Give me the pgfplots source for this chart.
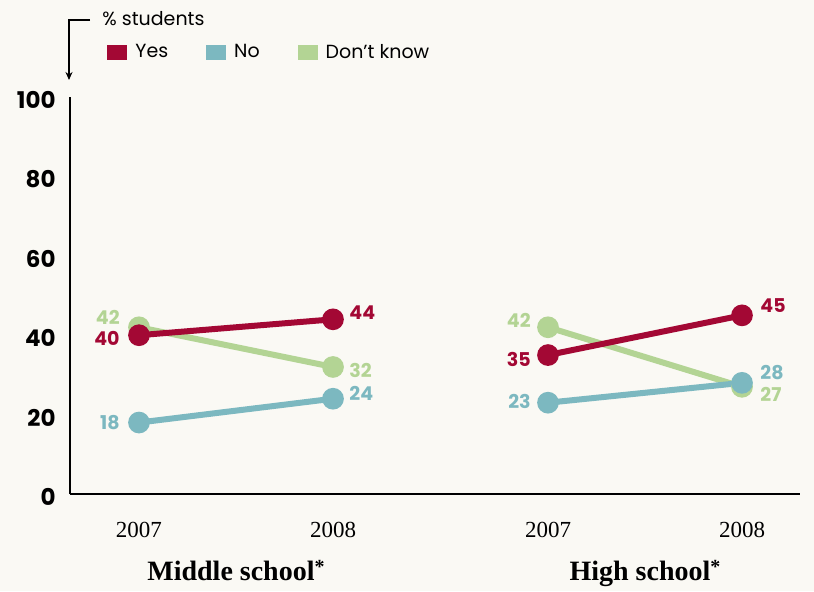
\documentclass[border=0pt]{standalone}
\usepackage{pgfplots}
\pgfplotsset{compat=1.18}
\usepackage{fontspec}
\setmainfont{Liberation Serif}
\newfontfamily\pop{Poppins}
\usetikzlibrary{arrows.meta}

\definecolor{bg}{RGB}{250,249,244}
\definecolor{yescol}{RGB}{163,8,52}
\definecolor{nocol}{RGB}{124,184,192}
\definecolor{dkcol}{RGB}{179,212,148}

\newcommand{\noteast}{\raisebox{0.28em}{\fontsize{10}{10}\selectfont *}}

\begin{document}
\begin{tikzpicture}
\path[use as bounding box, fill=bg] (0,0) rectangle (407pt,295.5pt);
\begin{axis}[
    at={(35pt,48.5pt)}, anchor=south west,
    scale only axis, width=365pt, height=198.5pt,
    xmin=70, xmax=800, ymin=0, ymax=100,
    axis x line=bottom, axis y line=left,
    axis line style={line width=1pt,-},
    major tick length=0pt,
    xtick={139,333,548,742},
    xticklabels={2007,2008,2007,2008},
    ytick={0,20,...,100},
    /pgf/number format/assume math mode=true,
    xticklabel style={font=\fontsize{11.5}{13}\selectfont, inner sep=0pt, anchor=north, yshift=-14pt},
    yticklabel style={font=\pop\bfseries\fontsize{11.5}{13}\selectfont, inner sep=0pt, anchor=east, xshift=-7pt, yshift=-1.5pt},
    clip=false,
    legend columns=3, reverse legend,
    legend style={at={(0.0507,1.112)}, anchor=west, draw=none, fill=none, inner sep=0pt,
        font=\pop\fontsize{9.5}{11}\selectfont, nodes={inner sep=0pt, anchor=west},
        /tikz/every odd column/.append style={column sep=4pt},
        /tikz/every even column/.append style={column sep=19pt}},
    legend image code/.code={\fill[#1, draw=none] (0pt,-3.75pt) rectangle (10pt,3.75pt);},
    every axis plot/.append style={line width=3pt, mark=*, mark size=3.9pt, mark options={solid}},
]
% Don't know
\addplot[dkcol] coordinates {(139,42) (333,32)};
\addlegendentry{Don’t know}
\addplot[dkcol, forget plot] coordinates {(548,42) (742,27)};
% No
\addplot[nocol] coordinates {(139,18) (333,24)};
\addlegendentry{No}
\addplot[nocol, forget plot] coordinates {(548,23) (742,28)};
% Yes
\addplot[yescol] coordinates {(139,40) (333,44)};
\addlegendentry{Yes}
\addplot[yescol, forget plot] coordinates {(548,35) (742,45)};

% value labels
\begin{scope}[every node/.style={font=\pop\bfseries\fontsize{9.5}{11}\selectfont, inner sep=0pt}]
\node[text=dkcol, anchor=east] at (axis cs:120,44.6) {42};
\node[text=yescol, anchor=east] at (axis cs:120,39.3) {40};
\node[text=nocol, anchor=east] at (axis cs:120,17.9) {18};
\node[text=yescol, anchor=west] at (axis cs:349,45.6) {44};
\node[text=dkcol, anchor=west] at (axis cs:349,31.2) {32};
\node[text=nocol, anchor=west] at (axis cs:349,25.4) {24};
\node[text=dkcol, anchor=east] at (axis cs:531,43.8) {42};
\node[text=yescol, anchor=east] at (axis cs:531,34.0) {35};
\node[text=nocol, anchor=east] at (axis cs:531,23.2) {23};
\node[text=yescol, anchor=west] at (axis cs:760,47.4) {45};
\node[text=nocol, anchor=west] at (axis cs:760,30.5) {28};
\node[text=dkcol, anchor=west] at (axis cs:760,25.2) {27};
\end{scope}

% group labels
\node[font=\bfseries\fontsize{14}{16}\selectfont, anchor=base] at (axis cs:236,-21.9) {Middle school\noteast};
\node[font=\bfseries\fontsize{14}{16}\selectfont, anchor=base] at (axis cs:645,-21.9) {High school\noteast};
\end{axis}

% unit note with arrow
\draw[line width=0.6pt, -{Stealth[length=4pt,width=3.5pt]}] (45pt,285.5pt) -- (34.5pt,285.5pt) -- (34.5pt,255.5pt);
\node[font=\pop\fontsize{9.5}{11}\selectfont, anchor=west, inner sep=0pt] at (51pt,286pt) {\% students};
\end{tikzpicture}
\end{document}
